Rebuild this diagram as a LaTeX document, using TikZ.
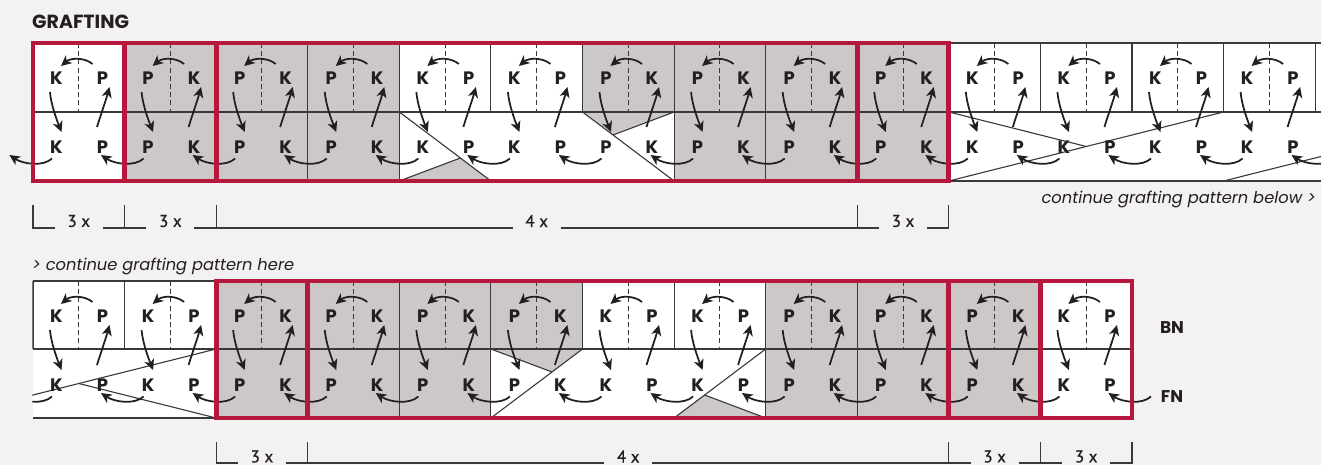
\documentclass[tikz,border=0pt]{standalone}
\usepackage{fontspec}
\setmainfont{Poppins}
\newfontfamily\numfont{PT Sans}[FakeBold=0.8]
\usetikzlibrary{arrows.meta,calc}
\definecolor{bg}{HTML}{F3F1F2}
\definecolor{cellgray}{HTML}{CCC8C8}
\definecolor{framered}{HTML}{B5173D}
\definecolor{ink}{HTML}{231F20}
\definecolor{gridc}{HTML}{3A3839}
\tikzset{
  fillW/.style={fill=white},
  fillG/.style={fill=cellgray},
  gridline/.style={draw=gridc, line width=1.1pt},
  midline/.style={draw=gridc, line width=1pt, dash pattern=on 5pt off 3.2pt},
  stitch/.style={draw=ink, line width=1.75pt, -{Stealth[length=10.5pt,width=10pt,inset=3pt]}},
  letter/.style={text=ink, inner sep=0pt, font=\fontsize{18}{18}\selectfont\bfseries},
  redframe/.style={draw=framered, line width=4.8pt},
  bracket/.style={draw=gridc, line width=1.2pt},
  countlabel/.style={text=ink, inner sep=0pt, font=\numfont\fontsize{17}{17}\selectfont},
  caption/.style={text=ink, inner sep=0pt, font=\fontsize{16.3}{16.3}\selectfont\itshape},
}
\def\letLW{K}\def\letRW{P}\def\letLG{P}\def\letRG{K}
\def\CW{91.583}
\begin{document}
\begin{tikzpicture}[x=1pt,y=-1pt]
\fill[bg] (0,0) rectangle (1321,465);
\useasboundingbox (0,0) rectangle (1321,465);

%================ TOP ROW (43 / 112 / 181) ================
\foreach \i/\u/\l in {1/W/W,2/G/G,3/G/G,4/G/G,5/W/W,6/W/W,7/G/W,8/G/G,9/G/G,10/G/G,11/W/W,12/W/W,13/W/W,14/W/W}{
  \pgfmathsetmacro\xa{33+(\i-1)*\CW}
  \pgfmathsetmacro\xb{33+\i*\CW}
  \fill[fill\u] (\xa,43) rectangle (\xb,112);
  \fill[fill\l] (\xa,112) rectangle (\xb,181);
}
\fill[white] (1315,43) rectangle (1321,181);
\fill[cellgray] (399.333,181) -- (460.39,158) -- (490.917,181) -- cycle;
\fill[cellgray] (582.5,112) -- (613.03,135) -- (674.083,112) -- cycle;

\draw[gridline] (33,43) -- (1321,43) (33,112) -- (1321,112) (33,181) -- (1321,181);
\foreach \i in {0,...,14}{
  \pgfmathsetmacro\xa{33+\i*\CW}
  \draw[gridline] (\xa,43) -- (\xa,112);
}
\foreach \i in {0,...,13}{
  \pgfmathsetmacro\xa{33+\i*\CW+0.5*\CW}
  \draw[midline] (\xa,43) -- (\xa,112);
}
\foreach \i in {1,2,3,4,7,8,9,10}{
  \pgfmathsetmacro\xa{33+\i*\CW}
  \draw[gridline] (\xa,112) -- (\xa,181);
}
\draw[gridline] (399.333,112) -- (490.917,181);
\draw[gridline] (399.333,181) -- (460.39,158);
\draw[gridline] (582.5,112) -- (674.083,181);
\draw[gridline] (613.03,135) -- (674.083,112);
\draw[gridline] (948.833,181) -- (1223.583,112);
\draw[gridline] (948.833,112) -- (1086.21,146.5);
\draw[gridline] (1223.583,181) -- (1498.33,112);

\coordinate (t0-lr) at (33-\CW+69.5,147);
\foreach \i/\u in {1/W,2/G,3/G,4/G,5/W,6/W,7/G,8/G,9/G,10/G,11/W,12/W,13/W,14/W}{
  \pgfmathsetmacro\xa{33+(\i-1)*\CW}
  \pgfmathtruncatemacro\p{\i-1}
  \node[letter] (t\i-ul) at (\xa+23.5,78) {\csname letL\u\endcsname};
  \node[letter] (t\i-ur) at (\xa+69.5,78) {\csname letR\u\endcsname};
  \node[letter] (t\i-ll) at (\xa+23.5,147) {\csname letL\u\endcsname};
  \node[letter] (t\i-lr) at (\xa+69.5,147) {\csname letR\u\endcsname};
  \draw[stitch] ($(t\i-ur)+(-10,-14)$) .. controls ($(t\i-ur)+(-17.5,-20.5)$) and ($(t\i-ul)+(14.5,-20.5)$) .. ($(t\i-ul)+(4.5,-12)$);
  \draw[stitch] ($(t\i-ul)+(-6.5,14)$) .. controls ($(t\i-ul)+(-5.5,26)$) and ($(t\i-ll)+(-0.5,-29)$) .. ($(t\i-ll)+(5,-15)$);
  \draw[stitch] ($(t\i-lr)+(-5.5,-20)$) .. controls ($(t\i-lr)+(-1.5,-33)$) and ($(t\i-ur)+(3.5,22)$) .. ($(t\i-ur)+(7,9)$);
  \draw[stitch] ($(t\i-ll)+(-4.5,11.5)$) .. controls ($(t\i-ll)+(-13.5,20)$) and ($(t\p-lr)+(12,17)$) .. ($(t\p-lr)+(-1.5,8)$);
}
\coordinate (t15-ll) at (1315.167+23.5,147);
\draw[stitch] ($(t15-ll)+(-4.5,11.5)$) .. controls ($(t15-ll)+(-13.5,20)$) and ($(t14-lr)+(12,17)$) .. ($(t14-lr)+(-1.5,8)$);

\draw[redframe] (33,43) rectangle (124.583,181);
\draw[redframe] (124.583,43) rectangle (216.167,181);
\draw[redframe] (216.167,43) rectangle (857.25,181);
\draw[redframe] (857.25,43) rectangle (948.833,181);

%================ BOTTOM ROW (281 / 349 / 418) ================
\begin{scope}
\clip (32.4,270) rectangle (1321,430);
\foreach \i/\u/\l in {1/W/W,2/W/W,3/G/G,4/G/G,5/G/G,6/G/W,7/W/W,8/W/W,9/G/G,10/G/G,11/G/G,12/W/W}{
  \pgfmathsetmacro\xa{33+(\i-1)*\CW}
  \pgfmathsetmacro\xb{33+\i*\CW}
  \fill[fill\u] (\xa,281) rectangle (\xb,349);
  \fill[fill\l] (\xa,349) rectangle (\xb,418);
}
\fill[cellgray] (490.917,349) -- (582.5,349) -- (551.97,372) -- cycle;
\fill[cellgray] (674.083,418) -- (704.61,395) -- (765.667,418) -- cycle;

\draw[gridline] (33,281) -- (1132,281) (33,349) -- (1132,349) (33,418) -- (1132,418);
\foreach \i in {0,...,12}{
  \pgfmathsetmacro\xa{33+\i*\CW}
  \draw[gridline] (\xa,281) -- (\xa,349);
}
\foreach \i in {0,...,11}{
  \pgfmathsetmacro\xa{33+\i*\CW+0.5*\CW}
  \draw[midline] (\xa,281) -- (\xa,349);
}
\foreach \i in {2,3,4,5,8,9,10,11,12}{
  \pgfmathsetmacro\xa{33+\i*\CW}
  \draw[gridline] (\xa,349) -- (\xa,418);
}
\draw[gridline] (-58.583,418) -- (216.167,349);
\draw[gridline] (78.79,383.5) -- (216.167,418);
\draw[gridline] (490.917,418) -- (582.5,349);
\draw[gridline] (490.917,349) -- (551.97,372);
\draw[gridline] (674.083,418) -- (765.667,349);
\draw[gridline] (704.61,395) -- (765.667,418);

\coordinate (b0-lr) at (33-\CW+69.5,385);
\foreach \i/\u in {1/W,2/W,3/G,4/G,5/G,6/G,7/W,8/W,9/G,10/G,11/G,12/W}{
  \pgfmathsetmacro\xa{33+(\i-1)*\CW}
  \pgfmathtruncatemacro\p{\i-1}
  \node[letter] (b\i-ul) at (\xa+23.5,316) {\csname letL\u\endcsname};
  \node[letter] (b\i-ur) at (\xa+69.5,316) {\csname letR\u\endcsname};
  \node[letter] (b\i-ll) at (\xa+23.5,385) {\csname letL\u\endcsname};
  \node[letter] (b\i-lr) at (\xa+69.5,385) {\csname letR\u\endcsname};
  \draw[stitch] ($(b\i-ur)+(-10,-14)$) .. controls ($(b\i-ur)+(-17.5,-20.5)$) and ($(b\i-ul)+(14.5,-20.5)$) .. ($(b\i-ul)+(4.5,-12)$);
  \draw[stitch] ($(b\i-ul)+(-6.5,14)$) .. controls ($(b\i-ul)+(-5.5,26)$) and ($(b\i-ll)+(-0.5,-29)$) .. ($(b\i-ll)+(5,-15)$);
  \draw[stitch] ($(b\i-lr)+(-5.5,-20)$) .. controls ($(b\i-lr)+(-1.5,-33)$) and ($(b\i-ur)+(3.5,22)$) .. ($(b\i-ur)+(7,9)$);
  \draw[stitch] ($(b\i-ll)+(-4.5,11.5)$) .. controls ($(b\i-ll)+(-13.5,20)$) and ($(b\p-lr)+(12,17)$) .. ($(b\p-lr)+(-1.5,8)$);
}
\coordinate (b13-ll) at (1132+23.5,385);
\draw[stitch] ($(b13-ll)+(-4.5,11.5)$) .. controls ($(b13-ll)+(-13.5,20)$) and ($(b12-lr)+(12,17)$) .. ($(b12-lr)+(-1.5,8)$);
\end{scope}

\draw[redframe] (216.167,281) rectangle (307.75,418);
\draw[redframe] (307.75,281) rectangle (948.833,418);
\draw[redframe] (948.833,281) rectangle (1040.417,418);
\draw[redframe] (1040.417,281) rectangle (1132,418);

\node[letter, font=\fontsize{17}{17}\selectfont\bfseries] (bn) at (1172,328) {BN};
\node[letter, font=\fontsize{17}{17}\selectfont\bfseries] (fn) at (1172,397) {FN};

%================ TEXT & BRACKETS ================
\node[anchor=west, text=ink, inner sep=0pt, font=\fontsize{19}{19}\selectfont\bfseries] (title) at (32,21.5) {GRAFTING};
\node[caption, anchor=east] (capbelow) at (1316,199) {continue grafting pattern below >};
\node[caption, anchor=west] (caphere) at (32,266) {> continue grafting pattern here};

\foreach \a/\b/\lab/\n in {0/1/3/ta,1/2/3/tb,2/9/4/tc,9/10/3/td}{
  \pgfmathsetmacro\xa{33+\a*\CW}
  \pgfmathsetmacro\xb{33+\b*\CW}
  \pgfmathsetmacro\xm{0.5*(\xa+\xb)}
  \draw[bracket] (\xa,205) -- (\xa,228) -- (\xm-24,228);
  \draw[bracket] (\xm+24,228) -- (\xb,228) -- (\xb,205);
  \node[countlabel] (\n) at (\xm,221) {\lab{} x};
}
\foreach \a/\b/\lab/\n in {2/3/3/ba,3/10/4/bb,10/11/3/bc,11/12/3/bd}{
  \pgfmathsetmacro\xa{33+\a*\CW}
  \pgfmathsetmacro\xb{33+\b*\CW}
  \pgfmathsetmacro\xm{0.5*(\xa+\xb)}
  \draw[bracket] (\xa,442) -- (\xa,463) -- (\xm-24,463);
  \draw[bracket] (\xm+24,463) -- (\xb,463) -- (\xb,442);
  \node[countlabel] (\n) at (\xm,456.5) {\lab{} x};
}
\end{tikzpicture}
\end{document}
